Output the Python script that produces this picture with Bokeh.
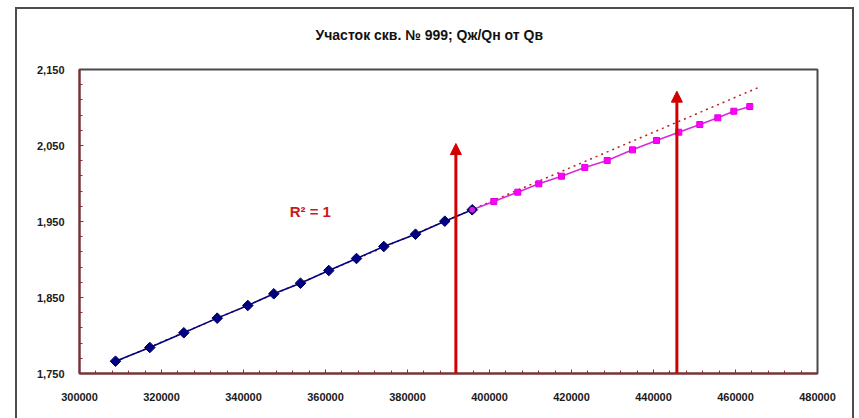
import numpy as np
from bokeh.plotting import figure
from bokeh.models import FixedTicker, Arrow, NormalHead, Label, InlineStyleSheet
from bokeh.embed import file_html
from bokeh.resources import INLINE

# ---- data ----
title_text = "Участок скв. № 999; Qж/Qн от Qв"

qv_fact = [308780, 317150, 325440, 333590, 341050, 347390, 353900,
           360800, 367560, 374220, 381950, 389100, 395780]
ratio_fact = [1.7662, 1.7842, 1.8036, 1.8228, 1.8395, 1.8549, 1.8688,
              1.8855, 1.9013, 1.9171, 1.9333, 1.9504, 1.9654]

qv_forecast = [395780, 401050, 406900, 412030, 417560, 423240, 428710,
               434880, 440730, 446170, 451290, 455680, 459590, 463490]
ratio_forecast = [1.9654, 1.9763, 1.9886, 1.9996, 2.0096, 2.0211, 2.0303,
                  2.0443, 2.0566, 2.0675, 2.0776, 2.0864, 2.0951, 2.1013]

trend_x_end = 466000

arrow_x = [391800, 445700]
arrow_top = [2.0526, 2.1215]

r2_text = "R² = 1"
r2_pos = (356300, 1.963)

x_ticks = [300000, 320000, 340000, 360000, 380000, 400000, 420000, 440000, 460000, 480000]
x_tick_labels = ["300000", "320000", "340000", "360000", "380000",
                 "400000", "420000", "440000", "460000", "480000"]
y_ticks = [1.75, 1.85, 1.95, 2.05, 2.15]
y_tick_labels = ["1,750", "1,850", "1,950", "2,050", "2,150"]

# ---- figure ----
p = figure(width=839, height=411, x_range=(300000, 480000), y_range=(1.75, 2.15),
           output_backend="svg", toolbar_location=None,
           min_border_left=64, min_border_right=37, min_border_top=62, min_border_bottom=45,
           margin=(7, 0, 0, 15), title=title_text + "\n ")
p.border_fill_alpha = 0
p.background_fill_color = "white"
p.outline_line_color = "#4a4a4a"
p.outline_line_width = 2
p.xgrid.visible = False
p.ygrid.visible = False
p.stylesheets = [InlineStyleSheet(css=":host { box-shadow: inset 2px 2px 0 0 #4d4d4d, inset -2px 0 0 0 #4d4d4d; }")]

p.title.text_font = "Liberation Sans"
p.title.text_font_size = "14px"
p.title.text_font_style = "bold"
p.title.text_color = "#111111"
p.title.align = "left"
p.title.offset = 236
p.title.standoff = 21

for ax in (p.xaxis[0], p.yaxis[0]):
    ax.axis_line_color = "#8b2a35"
    ax.axis_line_width = 2
    ax.major_tick_line_color = "#8b2a35"
    ax.minor_tick_line_color = "#8b2a35"
    ax.major_tick_in = 4
    ax.major_tick_out = 0
    ax.minor_tick_in = 3
    ax.minor_tick_out = 0
    ax.major_label_text_font = "Liberation Sans"
    ax.major_label_text_font_size = "11px"
    ax.major_label_text_font_style = "bold"
    ax.major_label_text_color = "#1a1a1a"

p.xaxis.ticker = FixedTicker(ticks=x_ticks, minor_ticks=list(np.arange(300000, 480001, 4000)))
p.xaxis.major_label_overrides = dict(zip(x_ticks, x_tick_labels))
p.xaxis.major_label_standoff = 19
p.yaxis.ticker = FixedTicker(ticks=y_ticks, minor_ticks=list(np.round(np.arange(1.75, 2.1501, 0.02), 3)))
p.yaxis.major_label_overrides = dict(zip(y_ticks, y_tick_labels))
p.yaxis.major_label_standoff = 15

# trend line (linear fit of the measured part, extended forward)
k, b = np.polyfit(qv_fact, ratio_fact, 1)
tx = [qv_fact[0], trend_x_end]
p.line(tx, [k * x + b for x in tx], line_color="#b82020", line_width=1.5, line_dash="2 4")

# series
p.line(qv_forecast, ratio_forecast, line_color="#d82ad8", line_width=1.6)
p.line(qv_fact, ratio_fact, line_color="#000080", line_width=1.5)
p.scatter(qv_fact, ratio_fact, marker="square", angle=np.pi / 4, size=7.5,
          fill_color="#000080", line_color="#000060")
p.scatter(qv_forecast[1:], ratio_forecast[1:], marker="square", size=6,
          fill_color="#ff00ff", line_color="#e000e0")
p.scatter(qv_forecast[:1], ratio_forecast[:1], marker="circle", size=7,
          fill_color="#cc22dd", line_color="#000080")

# arrows
for ax_, top in zip(arrow_x, arrow_top):
    p.add_layout(Arrow(end=NormalHead(size=11, fill_color="#d40000", line_color="#d40000"),
                       x_start=ax_, y_start=1.75, x_end=ax_, y_end=top,
                       line_color="#d40000", line_width=3))

p.add_layout(Label(x=r2_pos[0], y=r2_pos[1], text=r2_text, text_align="center",
                   text_baseline="middle", text_color="#cc1a1a", text_font="Liberation Sans",
                   text_font_size="15px", text_font_style="bold"))

open("out.html", "w").write(file_html(p, INLINE))
